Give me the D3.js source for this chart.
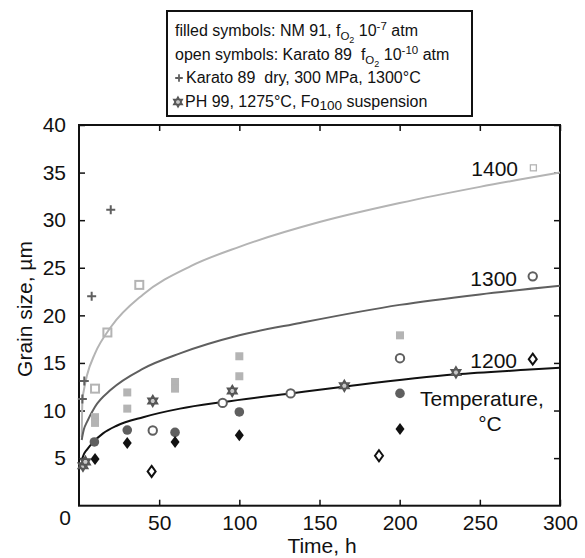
<!DOCTYPE html>
<html>
<head>
<meta charset="utf-8">
<script src="https://cdn.jsdelivr.net/npm/d3@7"></script>
<style>
  body { margin: 0; background: #fff; }
  svg { display: block; font-family: "Liberation Sans", Arial, Helvetica, sans-serif; }
</style>
</head>
<body>
<svg id="chart"></svg>
<script>
// grain size (um) vs time (h), [time, size] pairs
var karatoDry = [[2.1, 11.2], [3.3, 13.1], [7.9, 22.0], [19.8, 31.1]];
var open1400 = [[10, 12.3], [17.7, 18.2], [37.6, 23.2], [283.4, 35.5]];
var open1300 = [[46, 7.9], [89.6, 10.8], [132, 11.8], [200.2, 15.5], [283, 24.1]];
var open1200 = [[45.3, 3.6], [187.1, 5.25], [283, 15.4]];
var filled1400 = [[10, 9.3], [10, 8.7], [30.1, 11.9], [30.1, 10.2], [59.9, 13.0], [59.9, 12.3], [100, 15.7], [100, 13.6], [200.2, 17.9]];
var filled1300 = [[9.6, 6.7], [30.1, 7.95], [59.9, 7.7], [100, 9.85], [200.2, 11.8]];
var filled1200 = [[10, 4.9], [30.1, 6.6], [59.9, 6.7], [100, 7.4], [200.2, 8.05]];
var ph99 = [[2.5, 4.2], [4, 4.6], [46, 11.0], [95.6, 12.05], [165.5, 12.6], [235.1, 14.0]];

// fitted growth curves, sampled from the figure
var fit1400 = [[1.7, 7.2], [1.9, 9.5], [2.2, 11.2], [3, 12.1], [5, 13.7], [10, 16], [20, 18.8], [40, 22.2], [70, 25.2], [100, 27.2], [150, 29.8], [200, 31.8], [250, 33.5], [300, 35]];
var fit1300 = [[1.7, 6.9], [2, 7.2], [3, 8.0], [5, 8.8], [10, 10.4], [20, 12.2], [40, 14.4], [63, 16.0], [100, 17.9], [138, 19.2], [200, 21.1], [250, 22.2], [300, 23.1]];
var fit1200 = [[1.7, 4.8], [3, 5.4], [5, 5.9], [9, 6.7], [15, 7.6], [23.5, 8.4], [40, 9.3], [63, 10.2], [90, 10.9], [132, 11.8], [165, 12.5], [235, 13.8], [281, 14.3], [300, 14.5]];

var xTicks = [50, 100, 150, 200, 250, 300];
var yTicks = [5, 10, 15, 20, 25, 30, 35, 40];
var curveLabels = ["1400", "1300", "1200"];

var width = 585, height = 558;
var plotLeft = 79, plotRight = 560, plotTop = 125, plotBottom = 505.7;

var svg = d3.select('#chart')
	.attr('width', width)
	.attr('height', height);

var xScale = d3.scaleLinear().domain([0, 300]).range([plotLeft, plotRight]);
var yScale = d3.scaleLinear().domain([0, 40]).range([plotBottom, plotTop]);

var light = '#b4b4b4', mid = '#5f5f5f', dark = '#111';

// axes, ticks pointing inward
svg.append('g')
	.attr('transform', 'translate(0,' + plotBottom + ')')
	.call(d3.axisBottom(xScale).tickValues(xTicks).tickSizeInner(-6).tickSizeOuter(0).tickPadding(9));
svg.append('g')
	.attr('transform', 'translate(0,' + plotTop + ')')
	.call(d3.axisTop(xScale).tickValues(xTicks).tickSizeInner(-6).tickSizeOuter(0).tickFormat(''));
svg.append('g')
	.attr('transform', 'translate(' + plotLeft + ',0)')
	.call(d3.axisLeft(yScale).tickValues(yTicks).tickSizeInner(-6).tickSizeOuter(0).tickPadding(13));
svg.append('g')
	.attr('transform', 'translate(' + plotRight + ',0)')
	.call(d3.axisRight(yScale).tickValues(yTicks).tickSizeInner(-6).tickSizeOuter(0).tickFormat(''));

svg.selectAll('.domain').remove();
svg.selectAll('.tick line').attr('stroke', '#111').attr('stroke-width', 1.5);
svg.selectAll('.tick text')
	.attr('font-size', 21)
	.attr('font-family', '"Liberation Sans", Arial, sans-serif')
	.attr('fill', '#111');

svg.append('text')
	.attr('x', 65).attr('y', 525)
	.attr('text-anchor', 'middle')
	.attr('font-size', 21).attr('fill', '#111')
	.text('0');

// plot box
svg.append('rect')
	.attr('x', plotLeft).attr('y', plotTop)
	.attr('width', plotRight - plotLeft).attr('height', plotBottom - plotTop)
	.attr('fill', 'none').attr('stroke', '#111').attr('stroke-width', 2);

// axis titles
svg.append('text')
	.attr('x', 322).attr('y', 553)
	.attr('text-anchor', 'middle')
	.attr('font-size', 21).attr('fill', '#111')
	.text('Time, h');
svg.append('text')
	.attr('transform', 'translate(32,309) rotate(-90)')
	.attr('text-anchor', 'middle')
	.attr('font-size', 21).attr('fill', '#111')
	.text('Grain size, µm');

// fitted curves
var line = d3.line()
	.x(function(d) { return xScale(d[0]); })
	.y(function(d) { return yScale(d[1]); })
	.curve(d3.curveMonotoneX);

[[fit1400, light], [fit1300, mid], [fit1200, dark]].forEach(function(c) {
	svg.append('path')
		.attr('d', line(c[0]))
		.attr('fill', 'none')
		.attr('stroke', c[1])
		.attr('stroke-width', 2);
});

// marker shapes
var diamond = function(w, h) {
	return 'M0,' + (-h) + 'L' + w + ',0L0,' + h + 'L' + (-w) + ',0Z';
};
var hexagram = function(r) {
	var p = '', a, i, k;
	for (k = 0; k < 2; k++) {
		for (i = 0; i < 3; i++) {
			a = (k ? 90 : -90) + i * 120;
			a = a * Math.PI / 180;
			p += (i ? 'L' : 'M') + (r * Math.cos(a)).toFixed(2) + ',' + (r * Math.sin(a)).toFixed(2);
		}
		p += 'Z';
	}
	return p;
};
var plus = function(r) {
	return 'M' + (-r) + ',0H' + r + 'M0,' + (-r) + 'V' + r;
};

var place = function(d) { return 'translate(' + xScale(d[0]) + ',' + yScale(d[1]) + ')'; };
var pts = svg.append('g').attr('class', 'data');

pts.selectAll('.f1400').data(filled1400).enter().append('rect')
	.attr('x', -4).attr('y', -4).attr('width', 8).attr('height', 8)
	.attr('transform', place).attr('fill', light);

// the last open square (next to the 1400 label) is drawn smaller in the figure
pts.selectAll('.o1400').data(open1400).enter().append('rect')
	.attr('x', function(d) { return d[0] > 250 ? -3 : -4; })
	.attr('y', function(d) { return d[0] > 250 ? -3 : -4; })
	.attr('width', function(d) { return d[0] > 250 ? 6 : 8; })
	.attr('height', function(d) { return d[0] > 250 ? 6 : 8; })
	.attr('transform', place)
	.attr('fill', 'none').attr('stroke', light)
	.attr('stroke-width', function(d) { return d[0] > 250 ? 1.3 : 2; });

pts.selectAll('.f1300').data(filled1300).enter().append('circle')
	.attr('r', 4.8).attr('transform', place).attr('fill', mid);

pts.selectAll('.o1300').data(open1300).enter().append('circle')
	.attr('r', 4.2).attr('transform', place)
	.attr('fill', '#fff').attr('stroke', mid).attr('stroke-width', 2);

pts.selectAll('.f1200').data(filled1200).enter().append('path')
	.attr('d', diamond(4.5, 6)).attr('transform', place).attr('fill', dark);

pts.selectAll('.o1200').data(open1200).enter().append('path')
	.attr('d', diamond(4, 5.5)).attr('transform', place)
	.attr('fill', '#fff').attr('stroke', dark).attr('stroke-width', 2);

pts.selectAll('.dry').data(karatoDry).enter().append('path')
	.attr('d', plus(4.5)).attr('transform', place)
	.attr('stroke', mid).attr('stroke-width', 2).attr('fill', 'none');

pts.selectAll('.ph').data(ph99).enter().append('path')
	.attr('d', hexagram(5.5)).attr('transform', place)
	.attr('fill', '#c8c8c8').attr('stroke', '#555').attr('stroke-width', 1.6);

// curve labels
var labelPos = [[518, 176], [517, 286], [517, 368]];
curveLabels.forEach(function(t, i) {
	svg.append('text')
		.attr('x', labelPos[i][0]).attr('y', labelPos[i][1])
		.attr('text-anchor', 'end')
		.attr('font-size', 21).attr('fill', '#111')
		.text(t);
});
svg.append('text')
	.attr('x', 420).attr('y', 406)
	.attr('font-size', 21).attr('fill', '#111')
	.text('Temperature,');
svg.append('text')
	.attr('x', 490).attr('y', 431)
	.attr('text-anchor', 'middle')
	.attr('font-size', 21).attr('fill', '#111')
	.text('°C');

// legend box
var legend = svg.append('g').attr('class', 'legend');
legend.append('rect')
	.attr('x', 167).attr('y', 11).attr('width', 305).attr('height', 105)
	.attr('fill', '#fff').attr('stroke', '#111').attr('stroke-width', 2);

var fs = 16;
var row = function(y) {
	return legend.append('text').attr('x', 175).attr('y', y)
		.attr('font-size', fs).attr('fill', '#111');
};
var fO2 = function(t, exp) {
	t.append('tspan').text('f');
	t.append('tspan').attr('font-size', 11.5).attr('dy', 4).text('O');
	t.append('tspan').attr('font-size', 9).attr('dy', 3).text('2');
	t.append('tspan').attr('font-size', fs).attr('dy', -7).text(' 10');
	t.append('tspan').attr('font-size', 11.5).attr('dy', -6).text(exp);
	t.append('tspan').attr('font-size', fs).attr('dy', 6).text(' atm');
};

var r1 = row(36);
r1.append('tspan').text('filled symbols: NM 91, ');
fO2(r1, '-7');

var r2 = row(60);
r2.append('tspan').text('open symbols: Karato 89\u00a0\u00a0');
fO2(r2, '-10');

legend.append('path').attr('d', plus(3.8)).attr('transform', 'translate(179,78)')
	.attr('stroke', mid).attr('stroke-width', 1.8);
var r3 = row(83).attr('x', 186);
r3.append('tspan').text('Karato 89\u00a0\u00a0dry, 300 MPa, 1300°C');

legend.append('path').attr('d', hexagram(5)).attr('transform', 'translate(178,102)')
	.attr('fill', '#c8c8c8').attr('stroke', '#555').attr('stroke-width', 1.4);
var r4 = row(107).attr('x', 185);
r4.append('tspan').text('PH 99, 1275°C, Fo');
r4.append('tspan').attr('font-size', 13.5).attr('dy', 3).text('100');
r4.append('tspan').attr('font-size', fs).attr('dy', -3).text(' suspension');
</script>
</body>
</html>
